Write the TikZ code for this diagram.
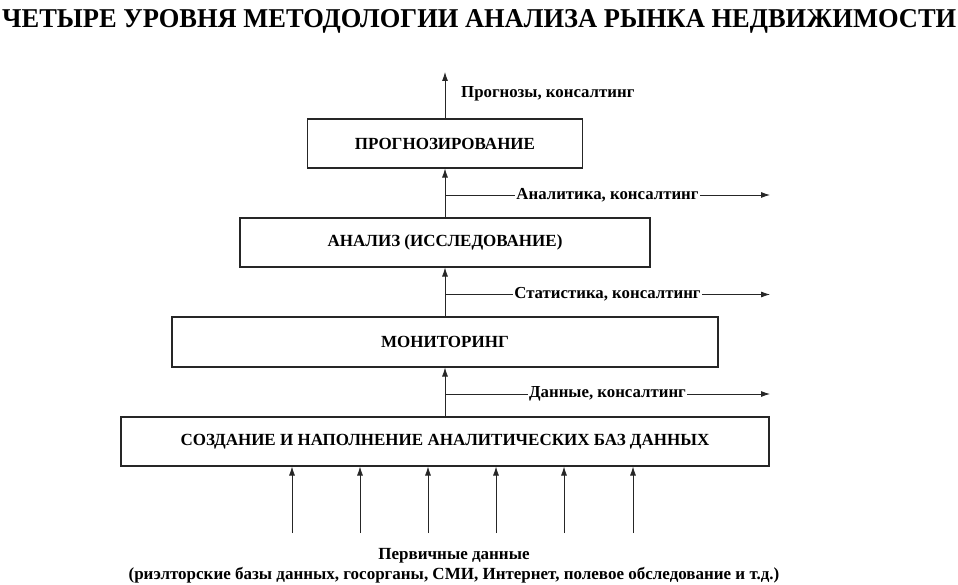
\documentclass[tikz,border=0pt]{standalone}
\usepackage{fontspec}
\setmainfont{Liberation Serif}
\usetikzlibrary{arrows.meta}
\tikzset{
  box/.style={draw=black!85, line width=1.1pt, fill=white, inner sep=0pt, font=\fontsize{17}{19}\selectfont\bfseries},
  lab/.style={inner sep=0pt, font=\fontsize{16.8}{19}\selectfont\bfseries},
  gaplab/.style={lab, fill=white, inner xsep=1.5pt, inner ysep=1pt},
  srclab/.style={inner sep=0pt, font=\fontsize{17}{19}\selectfont\bfseries},
  arr/.style={line width=0.8pt, draw=black!85, -{Latex[length=9pt,width=6pt]}},
  ln/.style={line width=0.8pt, draw=black!85}
}
\begin{document}
\begin{tikzpicture}[x=1pt,y=-1pt]
\useasboundingbox (0,0) rectangle (958,585);
% title
\node[anchor=base west, inner sep=0pt] (title) at (2,28)
  {\resizebox{954pt}{18pt}{\fontsize{30}{32}\selectfont\bfseries ЧЕТЫРЕ УРОВНЯ МЕТОДОЛОГИИ АНАЛИЗА РЫНКА НЕДВИЖИМОСТИ}};
% boxes
\node[box, minimum width=275pt, minimum height=49pt] (p) at (445,143.5) {ПРОГНОЗИРОВАНИЕ};
\node[box, minimum width=410pt, minimum height=49pt] (a) at (445,242.5) {АНАЛИЗ (ИССЛЕДОВАНИЕ)};
\node[box, minimum width=546pt, minimum height=50pt] (m) at (445,342) {МОНИТОРИНГ};
\node[box, minimum width=648pt, minimum height=49pt] (s) at (445,441.5) {СОЗДАНИЕ И НАПОЛНЕНИЕ АНАЛИТИЧЕСКИХ БАЗ ДАННЫХ};
% trunk arrows
\coordinate (top) at (445,72);
\draw[arr] (p.north) -- (top);
\draw[arr] (a.north) -- (p.south);
\draw[arr] (m.north) -- (a.south);
\draw[arr] (s.north) -- (m.south);
\node[lab, anchor=west] (lp) at (461,94) {Прогнозы, консалтинг};
% branches
\coordinate (b1) at (445,195);  \coordinate (e1) at (770,195);
\coordinate (b2) at (445,294.5);\coordinate (e2) at (770,294.5);
\coordinate (b3) at (445,394);  \coordinate (e3) at (770,394);
\draw[arr] (b1) -- node[gaplab] (l1) {Аналитика, консалтинг} (e1);
\draw[arr] (b2) -- node[gaplab] (l2) {Статистика, консалтинг} (e2);
\draw[arr] (b3) -- node[gaplab] (l3) {Данные, консалтинг} (e3);
% input arrows
\foreach \i/\x in {1/292,2/360,3/428,4/496,5/564,6/633}{
  \coordinate (in\i) at (\x,533);
  \draw[arr] (in\i) -- (in\i |- s.south);
}
% bottom text
\node[srclab] (src1) at (454,556) {Первичные данные};
\node[srclab] (src2) at (454,575) {(риэлторские базы данных, госорганы, СМИ, Интернет, полевое обследование и т.д.)};
\end{tikzpicture}
\end{document}
